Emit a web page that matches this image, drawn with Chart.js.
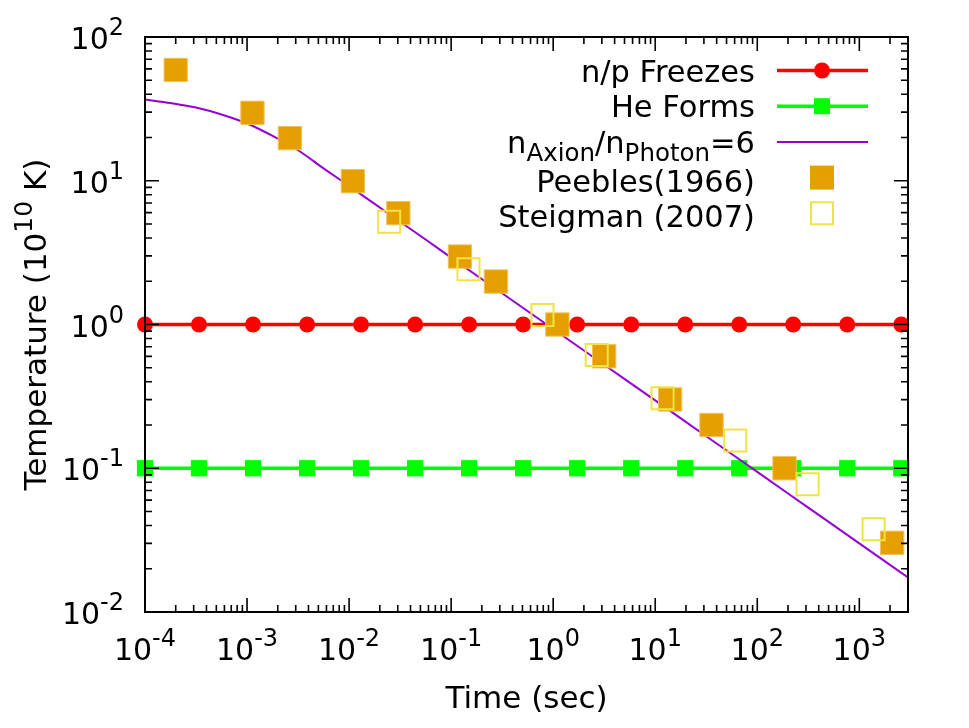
<!DOCTYPE html>
<html><head><meta charset="utf-8">
<script src="https://cdn.jsdelivr.net/npm/chart.js@4/dist/chart.umd.min.js"></script>
<style>html,body{margin:0;padding:0;background:#fff;}canvas{display:block;}</style>
</head><body>
<canvas id="c" width="969" height="728"></canvas>
<script>
// ---- data ----
const sampleTimes = [1e-4, 3.38e-4, 1.145e-3, 3.88e-3, 1.31e-2, 4.44e-2, 0.150, 0.508, 1.72, 5.82, 19.7, 66.6, 225, 762, 2580, 3000];
const freezeTemps = [1, 1, 1, 1, 1, 1, 1, 1, 1, 1, 1, 1, 1, 1, 1, 1];
const heliumTemps = [0.1, 0.1, 0.1, 0.1, 0.1, 0.1, 0.1, 0.1, 0.1, 0.1, 0.1, 0.1, 0.1, 0.1, 0.1, 0.1];
const axionTimes = [1e-4, 1.78e-4, 3.16e-4, 5.62e-4, 1e-3, 1.78e-3, 3.16e-3, 5.62e-3, 1e-2, 1.78e-2, 3.16e-2, 5.62e-2, 0.1, 0.316, 1, 3.16, 10, 31.6, 100, 316, 1000, 3000];
const axionTemps = [36.7, 34.7, 32.3, 28.9, 25.0, 20.5, 16.3, 12.2, 9.19, 6.90, 5.19, 3.90, 2.92, 1.651, 0.930, 0.525, 0.2964, 0.167, 0.0943, 0.0532, 0.0300, 0.0174];
const peeblesTimes = [2e-4, 1.13e-3, 2.63e-3, 0.0109, 0.0304, 0.122, 0.275, 1.10, 3.16, 14.0, 35.6, 185, 2099];
const peeblesTemps = [59, 29.7, 19.8, 9.93, 5.95, 2.97, 1.99, 1.0, 0.601, 0.301, 0.2, 0.1, 0.0303];
const steigmanTimes = [0.0247, 0.148, 0.785, 2.67, 11.8, 60.9, 311, 1380];
const steigmanTemps = [5.19, 2.42, 1.165, 0.614, 0.307, 0.156, 0.0773, 0.0376];
const xTickExponents = ['-4', '-3', '-2', '-1', '0', '1', '2', '3'];
const yTickExponents = ['-2', '-1', '0', '1', '2'];
const seriesNames = ['n/p Freezes', 'He Forms', 'nAxion/nPhoton=6', 'Peebles(1966)', 'Steigman (2007)'];
const xTitle = 'Time (sec)';
const yTitle = ['Temperature (10', '10', ' K)'];

const RED = '#ff0000', GREEN = '#00ff00', PURPLE = '#9400d3', ORANGE = '#e69f00', YELLOW = '#f0e442';
const FONT = '"DejaVu Sans", sans-serif';

function pts(xs, ys) { return xs.map((t, i) => ({x: t, y: ys[i]})); }
const lastIdx = sampleTimes.length - 1;

function drawPow(ctx, exp, x, y, align, size) {
  const sup = Math.round(size * 0.8);
  ctx.font = size + 'px ' + FONT;
  const w1 = ctx.measureText('10').width;
  ctx.font = sup + 'px ' + FONT;
  const w2 = ctx.measureText(exp).width;
  const w = w1 + w2;
  let x0 = align === 'right' ? x - w : (align === 'center' ? x - w / 2 : x);
  ctx.textAlign = 'left';
  ctx.textBaseline = 'alphabetic';
  ctx.font = size + 'px ' + FONT;
  ctx.fillText('10', x0, y);
  ctx.font = sup + 'px ' + FONT;
  ctx.fillText(exp, x0 + w1, y - Math.round(size * 0.45));
}

const framePlugin = {
  id: 'frame',
  afterDatasetsDraw(chart) {
    const {ctx, chartArea: a, scales: {x, y}} = chart;
    ctx.save();
    ctx.strokeStyle = '#000';
    ctx.lineWidth = 1.6;
    ctx.beginPath();
    for (let e = -4; e <= 3; e++) {
      for (let m = 1; m <= 9; m++) {
        const v = m * Math.pow(10, e);
        if (v < 1e-4 * 0.999 || v > 3000) continue;
        const px = x.getPixelForValue(v);
        const len = m === 1 ? 14 : 7;
        ctx.moveTo(px, a.bottom); ctx.lineTo(px, a.bottom - len);
        ctx.moveTo(px, a.top); ctx.lineTo(px, a.top + len);
      }
    }
    for (let e = -2; e <= 2; e++) {
      for (let m = 1; m <= 9; m++) {
        const v = m * Math.pow(10, e);
        if (v > 100.01) continue;
        const py = y.getPixelForValue(v);
        const len = m === 1 ? 14 : 7;
        ctx.moveTo(a.left, py); ctx.lineTo(a.left + len, py);
        ctx.moveTo(a.right, py); ctx.lineTo(a.right - len, py);
      }
    }
    ctx.stroke();
    ctx.lineWidth = 2;
    ctx.strokeRect(a.left, a.top, a.right - a.left, a.bottom - a.top);
    ctx.restore();
  },
  afterDraw(chart) {
    const {ctx, chartArea: a, scales: {x, y}} = chart;
    ctx.save();
    ctx.fillStyle = '#000';
    xTickExponents.forEach(e => {
      drawPow(ctx, e, x.getPixelForValue(Math.pow(10, +e)), 660, 'center', 30);
    });
    yTickExponents.forEach(e => {
      drawPow(ctx, e, 124, y.getPixelForValue(Math.pow(10, +e)) + 12, 'right', 30);
    });
    // x title
    ctx.font = '31px ' + FONT;
    ctx.textAlign = 'center';
    ctx.textBaseline = 'alphabetic';
    ctx.fillText(xTitle, (a.left + a.right) / 2, 708);
    // y title (rotated)
    ctx.save();
    ctx.translate(46, (a.top + a.bottom) / 2);
    ctx.rotate(-Math.PI / 2);
    ctx.textAlign = 'left';
    ctx.font = '31px ' + FONT;
    const w1 = ctx.measureText(yTitle[0]).width, w3 = ctx.measureText(yTitle[2]).width;
    ctx.font = '25px ' + FONT;
    const w2 = ctx.measureText(yTitle[1]).width;
    let x0 = -(w1 + w2 + w3) / 2;
    ctx.font = '31px ' + FONT; ctx.fillText(yTitle[0], x0, 0);
    ctx.font = '25px ' + FONT; ctx.fillText(yTitle[1], x0 + w1, -14);
    ctx.font = '31px ' + FONT; ctx.fillText(yTitle[2], x0 + w1 + w2, 0);
    ctx.restore();

    // legend
    const right = 755, y0 = 70.5, dy = 35.7, sx0 = 777, sx1 = 868, mx = 822;
    ctx.textAlign = 'right';
    ctx.font = '30.5px ' + FONT;
    const rows = [0, 1, 2, 3, 4].map(i => y0 + i * dy);
    ctx.fillText(seriesNames[0], right, rows[0] + 11);
    ctx.fillText(seriesNames[1], right, rows[1] + 11);
    {
      const parts = [['n', 0], ['Axion', 1], ['/n', 0], ['Photon', 1], ['=6', 0]];
      const ws = parts.map(p => { ctx.font = (p[1] ? 24.5 : 30.5) + 'px ' + FONT; return ctx.measureText(p[0]).width; });
      let cx = right - ws.reduce((s, v) => s + v, 0);
      ctx.textAlign = 'left';
      parts.forEach((p, i) => {
        ctx.font = (p[1] ? 24.5 : 30.5) + 'px ' + FONT;
        ctx.fillText(p[0], cx, rows[2] + 11 + (p[1] ? 8 : 0));
        cx += ws[i];
      });
      ctx.textAlign = 'right';
    }
    ctx.font = '30.5px ' + FONT;
    ctx.fillText(seriesNames[3], right, rows[3] + 14);
    ctx.fillText(seriesNames[4], right, rows[4] + 14);
    // samples
    ctx.lineCap = 'butt';
    ctx.strokeStyle = RED; ctx.lineWidth = 3.5;
    ctx.beginPath(); ctx.moveTo(sx0, rows[0]); ctx.lineTo(sx1, rows[0]); ctx.stroke();
    ctx.fillStyle = RED; ctx.beginPath(); ctx.arc(mx, rows[0], 8, 0, Math.PI * 2); ctx.fill();
    ctx.strokeStyle = GREEN;
    ctx.beginPath(); ctx.moveTo(sx0, rows[1]); ctx.lineTo(sx1, rows[1]); ctx.stroke();
    ctx.fillStyle = GREEN; ctx.fillRect(mx - 8, rows[1] - 8, 16, 16);
    ctx.strokeStyle = PURPLE; ctx.lineWidth = 2;
    ctx.beginPath(); ctx.moveTo(sx0, rows[2]); ctx.lineTo(sx1, rows[2]); ctx.stroke();
    ctx.fillStyle = ORANGE; ctx.fillRect(mx - 12, rows[3] - 12, 24, 24);
    ctx.strokeStyle = YELLOW; ctx.lineWidth = 2;
    ctx.strokeRect(mx - 11, rows[4] - 11, 22, 22);
    ctx.restore();
  }
};

new Chart(document.getElementById('c'), {
  type: 'scatter',
  data: {
    datasets: [
      { label: seriesNames[4], data: pts(steigmanTimes, steigmanTemps), order: 0, showLine: false,
        pointStyle: 'rect', pointRadius: 15.6, pointBackgroundColor: 'rgba(0,0,0,0)', pointBorderColor: YELLOW, pointBorderWidth: 2 },
      { label: seriesNames[3], data: pts(peeblesTimes, peeblesTemps), order: 1, showLine: false,
        pointStyle: 'rect', pointRadius: 16.5, pointBackgroundColor: ORANGE, pointBorderColor: '#f0c35a', pointBorderWidth: 1 },
      { label: seriesNames[2], data: pts(axionTimes, axionTemps), order: 2, showLine: true,
        borderColor: PURPLE, borderWidth: 2, pointRadius: 0, cubicInterpolationMode: 'monotone' },
      { label: seriesNames[1], data: pts(sampleTimes, heliumTemps), order: 3, showLine: true, clip: false,
        borderColor: GREEN, borderWidth: 3.5, pointStyle: 'rect', backgroundColor: GREEN,
        pointRadius: sampleTimes.map((t, i) => i < lastIdx ? 11.5 : 0), pointBorderWidth: 0 },
      { label: seriesNames[0], data: pts(sampleTimes, freezeTemps), order: 4, showLine: true, clip: false,
        borderColor: RED, borderWidth: 3.5, pointStyle: 'circle', backgroundColor: RED,
        pointRadius: sampleTimes.map((t, i) => i < lastIdx ? 8 : 0), pointBorderWidth: 0 }
    ]
  },
  options: {
    responsive: false,
    animation: false,
    devicePixelRatio: 1,
    layout: { padding: { left: 145, right: 61, top: 37, bottom: 116 } },
    plugins: { legend: { display: false }, tooltip: { enabled: false } },
    elements: { point: { hoverRadius: 0 } },
    scales: {
      x: { type: 'logarithmic', min: 1e-4, max: 3000, display: false },
      y: { type: 'logarithmic', min: 0.01, max: 100, display: false }
    }
  },
  plugins: [framePlugin]
});
</script>
</body></html>
